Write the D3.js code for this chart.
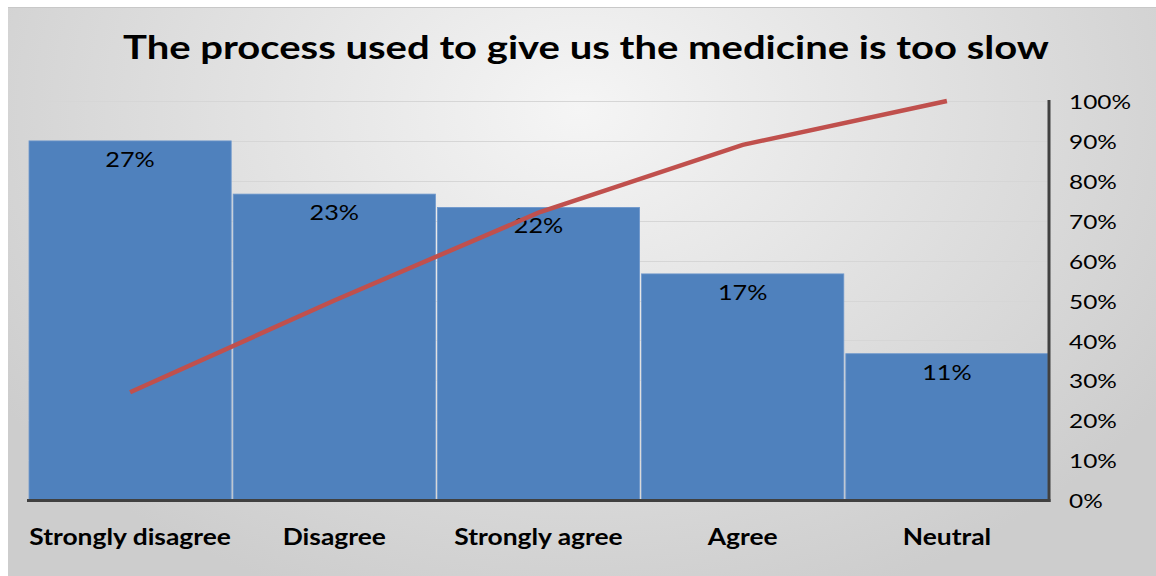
<!DOCTYPE html>
<html>
<head>
<meta charset="utf-8">
<script src="https://cdn.jsdelivr.net/npm/d3@7"></script>
<style>
  html, body { margin: 0; padding: 0; background: #ffffff; }
  svg { display: block; }
  text { font-family: Lato, "Open Sans", sans-serif; fill: #000; }
</style>
</head>
<body>
<svg id="chart" width="1156" height="576"></svg>
<script>
// Survey responses, sorted from largest to smallest share
const categories = ["Strongly disagree", "Disagree", "Strongly agree", "Agree", "Neutral"];
const shares = [0.27, 0.23, 0.22, 0.17, 0.11];
const cumulative = [0.27, 0.50, 0.72, 0.89, 1.00];
const rightTicks = [0, 0.1, 0.2, 0.3, 0.4, 0.5, 0.6, 0.7, 0.8, 0.9, 1.0];
const title = "The process used to give us the medicine is too slow";

const svg = d3.select("#chart");
const W = 1156, H = 576;

// Widen glyphs horizontally to get the condensed-font proportions back to full width
function stretch(sel, k) {
  sel.each(function () {
    const len = this.getComputedTextLength();
    d3.select(this).attr("textLength", len * k).attr("lengthAdjust", "spacingAndGlyphs");
  });
}

// Panel background: light centre fading to grey at the edges
const defs = svg.append("defs");
const grad = defs.append("radialGradient")
  .attr("id", "bg").attr("gradientUnits", "userSpaceOnUse")
  .attr("cx", 580).attr("cy", 110).attr("r", 700)
  .attr("gradientTransform", "translate(580,110) scale(1,0.75) translate(-580,-110)");
grad.append("stop").attr("offset", "0%").attr("stop-color", "#f5f5f5");
grad.append("stop").attr("offset", "100%").attr("stop-color", "#cdcdcd");

svg.append("rect").attr("x", 8).attr("y", 7).attr("width", W - 8).attr("height", H - 7)
  .attr("fill", "url(#bg)");
svg.append("line").attr("x1", 8).attr("x2", W).attr("y1", 7.5).attr("y2", 7.5)
  .attr("stroke", "#c8c8c8").attr("stroke-width", 1);

const plot = { left: 28, right: 1049, top: 101, bottom: 500 };

const x = d3.scaleBand().domain(categories).range([plot.left, plot.right]).padding(0);
const yBar = d3.scaleLinear().domain([0, 0.30]).range([plot.bottom, plot.top]);
const yCum = d3.scaleLinear().domain([0, 1]).range([plot.bottom, plot.top]);

// Gridlines
svg.append("g").selectAll("line").data(rightTicks.slice(1)).join("line")
  .attr("x1", plot.left).attr("x2", plot.right)
  .attr("y1", d => Math.round(yCum(d)) + 0.5).attr("y2", d => Math.round(yCum(d)) + 0.5)
  .attr("stroke", "#d6d6d6").attr("stroke-width", 1.2);

// Bars
svg.append("g").selectAll("rect").data(categories).join("rect")
  .attr("x", d => x(d) + 1)
  .attr("width", x.bandwidth() - 2)
  .attr("y", (d, i) => yBar(shares[i]))
  .attr("height", (d, i) => plot.bottom - yBar(shares[i]))
  .attr("fill", "#4f81bd")
  .attr("stroke", "#6f98cc").attr("stroke-width", 0.8);

// Bar value labels
const barLabels = svg.append("g").selectAll("text").data(categories).join("text")
  .attr("x", d => x(d) + x.bandwidth() / 2)
  .attr("y", (d, i) => yBar(shares[i]) + 26)
  .attr("text-anchor", "middle")
  .style("font-size", "21px")
  .text((d, i) => Math.round(shares[i] * 100) + "%");
stretch(barLabels, 1.2);

// Cumulative line
const line = d3.line()
  .x((d, i) => x(categories[i]) + x.bandwidth() / 2)
  .y(d => yCum(d));
svg.append("path").datum(cumulative)
  .attr("d", line)
  .attr("fill", "none")
  .attr("stroke", "#c0504d")
  .attr("stroke-width", 4.5)
  .attr("stroke-linecap", "butt");

// Axis frame: bottom and right
svg.append("line").attr("x1", plot.left - 1).attr("x2", plot.right + 1.5)
  .attr("y1", plot.bottom + 0.5).attr("y2", plot.bottom + 0.5)
  .attr("stroke", "#404040").attr("stroke-width", 3);
svg.append("line").attr("x1", plot.right).attr("x2", plot.right)
  .attr("y1", plot.top - 1).attr("y2", plot.bottom + 2)
  .attr("stroke", "#404040").attr("stroke-width", 3);

// Right axis labels
const rightAxis = d3.axisRight(yCum).tickValues(rightTicks)
  .tickFormat(d3.format(".0%")).tickSize(0).tickPadding(20);
const ra = svg.append("g").attr("transform", `translate(${plot.right},0)`).call(rightAxis);
ra.select(".domain").remove();
ra.selectAll("text").style("font-size", "20px").style("font-family", "Lato, sans-serif")
  .attr("fill", "#000").attr("dy", "0.38em");
stretch(ra.selectAll("text"), 1.22);

// Category labels
const bottomAxis = d3.axisBottom(x).tickSize(0).tickPadding(29);
const ba = svg.append("g").attr("transform", `translate(0,${plot.bottom})`).call(bottomAxis);
ba.select(".domain").remove();
ba.selectAll("text").style("font-size", "22px").style("font-weight", "bold")
  .style("font-family", "Lato, sans-serif").attr("fill", "#000");
stretch(ba.selectAll("text"), 1.2);

// Title
const titleText = svg.append("text")
  .attr("x", 586).attr("y", 59)
  .attr("text-anchor", "middle")
  .style("font-size", "32px").style("font-weight", "bold")
  .text(title);
stretch(titleText, 1.25);
</script>
</body>
</html>
